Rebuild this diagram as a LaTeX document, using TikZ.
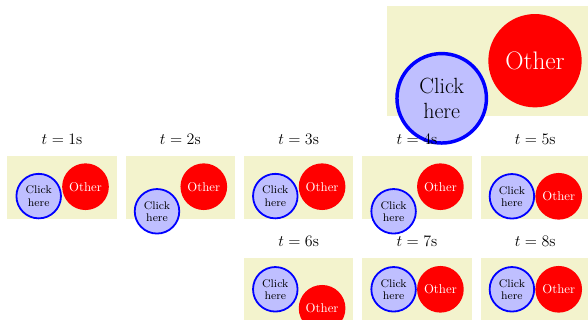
\documentclass[tikz,border=0pt]{standalone}
\definecolor{bgy}{RGB}{243,243,205}
\definecolor{clkfill}{RGB}{191,191,255}
\tikzset{
  snapframe/.style={fill=bgy, draw=none, inner sep=0pt, outer sep=0pt, anchor=north west, minimum width=82.1pt, minimum height=47.5pt},
  clk/.style={circle, draw=blue, fill=clkfill, line width=1.35pt, minimum size=33.4pt, inner sep=0pt, align=center, font=\fontsize{8.3}{9.2}\selectfont},
  oth/.style={circle, fill=red, text=white, minimum size=35pt, inner sep=0pt, font=\fontsize{9.6}{11}\selectfont},
  bigclk/.style={clk, line width=2.6pt, minimum size=67.1pt, font=\fontsize{16.5}{18.5}\selectfont},
  bigoth/.style={oth, minimum size=70pt, font=\fontsize{19}{22}\selectfont},
  tlabel/.style={font=\large, inner sep=0pt},
}
\newcommand\snapshot[8]{% id, fx, fy, num, cx, cy, ox, oy
  \node[snapframe] (f#1) at (#2,#3) {};
  \node[clk] (c#1) at (#2+#5,#3+#6) {Click\\here};
  \node[oth] (o#1) at (#2+#7,#3+#8) {Other};
  \node[tlabel] (l#1) at (#2+54.75,#3-16.6) {$t=#4$s};
}
\begin{document}
\begin{tikzpicture}[x=0.75pt,y=-0.75pt]
\useasboundingbox (0,0) rectangle (588,320);
% current (large) state
\node[snapframe, minimum width=151pt, minimum height=82.3pt] (fbig) at (387.3,6) {};
\node[bigclk] (cbig) at (441.7,98.3) {Click\\here};
\node[bigoth] (obig) at (535,60.7) {Other};
% snapshots
\snapshot{1}{7.3}{155.7}{1}{31.4}{40.4}{78.2}{31}
\snapshot{2}{125.6}{155.7}{2}{31.4}{55.6}{78.2}{31}
\snapshot{3}{243.9}{155.7}{3}{31.4}{40.4}{78.2}{31}
\snapshot{4}{362.2}{155.7}{4}{31.4}{55.6}{78.2}{31}
\snapshot{5}{480.5}{155.7}{5}{31.4}{40.6}{78.2}{40.6}
\snapshot{6}{243.9}{258.3}{6}{31.4}{31}{78.2}{50}
\snapshot{7}{362.2}{258.3}{7}{31.4}{31}{78.2}{31}
\snapshot{8}{480.5}{258.3}{8}{31.4}{31}{78.2}{31}
\end{tikzpicture}
\end{document}
